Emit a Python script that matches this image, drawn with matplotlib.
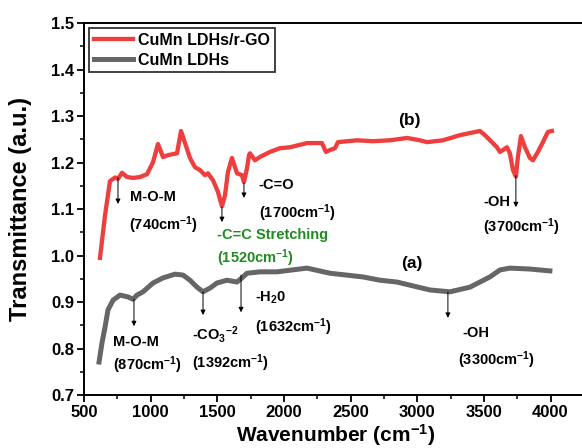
import matplotlib
matplotlib.use("Agg")
import matplotlib.pyplot as plt
from matplotlib.ticker import MultipleLocator, FormatStrFormatter

plt.rcParams['font.family'] = ['Liberation Sans', 'DejaVu Sans']
plt.rcParams['font.weight'] = 'bold'
plt.rcParams['mathtext.fontset'] = 'custom'
plt.rcParams['mathtext.rm'] = 'Liberation Sans:bold'
plt.rcParams['mathtext.bf'] = 'Liberation Sans:bold'
plt.rcParams['mathtext.default'] = 'bf'

# FTIR spectrum of CuMn LDHs/r-GO (b)
wn_b = [620, 658, 695, 733, 755, 785, 823, 868, 920, 973, 1018, 1055, 1093, 1130,
        1198, 1228, 1258, 1295, 1333, 1370, 1408, 1430, 1468, 1505, 1535, 1558,
        1580, 1610, 1648, 1685, 1700, 1723, 1738, 1745, 1783, 1820, 1895, 1970,
        2045, 2173, 2285, 2315, 2345, 2383, 2405, 2548, 2668, 2795, 2923, 3020,
        3073, 3193, 3320, 3470, 3508, 3560, 3598, 3620, 3643, 3673, 3695, 3718,
        3740, 3755, 3778, 3808, 3845, 3868, 3905, 3943, 3980, 4010]
tr_b = [0.995, 1.087, 1.160, 1.168, 1.165, 1.178, 1.169, 1.167, 1.169, 1.175, 1.201,
        1.240, 1.212, 1.216, 1.220, 1.268, 1.242, 1.210, 1.190, 1.184, 1.173, 1.177,
        1.162, 1.137, 1.106, 1.130, 1.180, 1.210, 1.177, 1.173, 1.158, 1.188, 1.216,
        1.220, 1.205, 1.212, 1.223, 1.231, 1.233, 1.242, 1.242, 1.223, 1.227, 1.231,
        1.244, 1.248, 1.246, 1.248, 1.253, 1.248, 1.244, 1.248, 1.259, 1.268, 1.259,
        1.244, 1.233, 1.223, 1.227, 1.233, 1.220, 1.184, 1.170, 1.212, 1.257, 1.233,
        1.210, 1.205, 1.223, 1.244, 1.266, 1.268]

# FTIR spectrum of CuMn LDHs (a)
wn_a = [613, 635, 658, 680, 718, 770, 830, 868, 898, 943, 1018, 1093, 1183, 1243,
        1295, 1348, 1393, 1445, 1498, 1573, 1648, 1685, 1723, 1820, 1948, 2173,
        2345, 2593, 2720, 2848, 3095, 3245, 3395, 3545, 3620, 3695, 3845, 3995]
tr_a = [0.771, 0.812, 0.846, 0.883, 0.904, 0.915, 0.911, 0.906, 0.915, 0.922, 0.941,
        0.952, 0.960, 0.958, 0.947, 0.932, 0.922, 0.930, 0.941, 0.947, 0.943, 0.952,
        0.962, 0.965, 0.965, 0.973, 0.962, 0.954, 0.947, 0.943, 0.926, 0.922, 0.932,
        0.954, 0.969, 0.973, 0.971, 0.967]

# arrow markers: (x, y start, y tip)
arrows_b = [(755, 1.168, 1.111), (1535, 1.104, 1.072), (1700, 1.156, 1.124),
            (3740, 1.172, 1.104)]
arrows_a = [(875, 0.906, 0.848), (1393, 0.922, 0.872), (1678, 0.958, 0.878),
            (3230, 0.922, 0.866)]

# band labels: (x, y, text, colour)
notes = [
    (845, 1.126, 'M-O-M', 'black'),
    (838, 1.066, '(740cm$^{-1}$)', 'black'),
    (1805, 1.152, '-C=O', 'black'),
    (1813, 1.091, '(1700cm$^{-1}$)', 'black'),
    (1498, 1.044, '-C=C Stretching', '#1e8c1e'),
    (1498, 0.995, '(1520cm$^{-1}$)', '#1e8c1e'),
    (3493, 1.115, '-OH', 'black'),
    (3493, 1.061, '(3700cm$^{-1}$)', 'black'),
    (718, 0.814, 'M-O-M', 'black'),
    (718, 0.765, '(870cm$^{-1}$)', 'black'),
    (1310, 0.831, '-CO$_3$$^{-2}$', 'black'),
    (1310, 0.769, '(1392cm$^{-1}$)', 'black'),
    (1783, 0.909, '-H$_2$0', 'black'),
    (1783, 0.846, '(1632cm$^{-1}$)', 'black'),
    (3335, 0.833, '-OH', 'black'),
    (3305, 0.775, '(3300cm$^{-1}$)', 'black'),
]

fig = plt.figure(figsize=(5.82, 4.48), dpi=100)
ax = fig.add_axes([0.1443, 0.1183, 0.962, 0.830])

ax.plot(wn_b, tr_b, color='#ef3e3e', lw=3.1, label='CuMn LDHs/r-GO', solid_joinstyle='round')
ax.plot(wn_a, tr_a, color='#666666', lw=3.6, label='CuMn LDHs', solid_joinstyle='round')

for x, y0, y1 in arrows_b + arrows_a:
    ax.annotate('', xy=(x, y1), xytext=(x, y0),
                arrowprops=dict(arrowstyle='-|>', lw=0.7, color='black', mutation_scale=7,
                                shrinkA=0, shrinkB=0))

for x, y, s, c in notes:
    ax.text(x, y, s, fontsize=10.5, color=c, ha='left', va='center', fontweight='bold')

ax.text(2855, 1.291, '(b)', fontsize=12.5, ha='left', va='center', fontweight='bold')
ax.text(2878, 0.982, '(a)', fontsize=12.5, ha='left', va='center', fontweight='bold')

ax.set_xlim(500, 4700)
ax.set_ylim(0.7, 1.5)
ax.xaxis.set_minor_locator(MultipleLocator(250))
ax.yaxis.set_major_locator(MultipleLocator(0.1))
ax.yaxis.set_minor_locator(MultipleLocator(0.05))
ax.yaxis.set_major_formatter(FormatStrFormatter('%.1f'))
ax.set_xticks([500, 1000, 1500, 2000, 2500, 3000, 3500, 4000])
ax.tick_params(which='major', direction='out', length=5, width=1.3, labelsize=12, pad=2)
ax.tick_params(which='minor', direction='out', length=3, width=1.1)
for lab in ax.get_xticklabels() + ax.get_yticklabels():
    lab.set_fontweight('bold')
for sp in ax.spines.values():
    sp.set_linewidth(1.4)

ax.set_xlabel('Wavenumber (cm$^{-1}$)', fontsize=15, fontweight='bold')
ax.xaxis.set_label_coords(0.45, -0.073)
ax.set_ylabel('Transmittance (a.u.)', fontsize=17, fontweight='bold')
ax.yaxis.set_label_coords(-0.093, 0.5)

leg = ax.legend(loc='upper left', fontsize=11.5, frameon=True, fancybox=False,
                borderpad=0.3, handlelength=2.5, handletextpad=0.3, labelspacing=0.3,
                borderaxespad=0.3)
leg.get_frame().set_edgecolor('black')
leg.get_frame().set_linewidth(1.3)
for t in leg.get_texts():
    t.set_fontweight('bold')

fig.savefig('out.png', dpi=100)
